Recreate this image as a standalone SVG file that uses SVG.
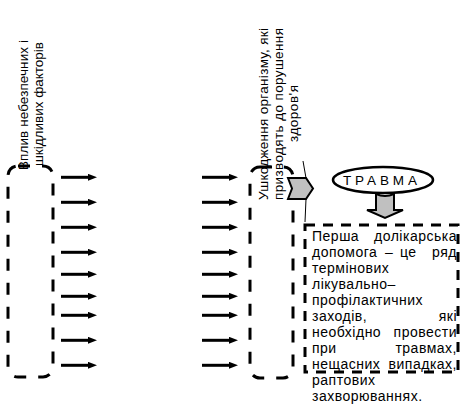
<svg xmlns="http://www.w3.org/2000/svg" width="468" height="406" viewBox="0 0 468 406">
  <style>
    text { font-family: "Liberation Sans", Arial, sans-serif; font-size: 13.5px; fill: #000; }
    .box text { font-size: 14px; letter-spacing: 0.5px; }
    .dash { fill: none; stroke: #000; stroke-width: 3; stroke-dasharray: 12 12; }
    .dash2 { fill: none; stroke: #000; stroke-width: 3; stroke-dasharray: 10 8; }
    .arr { stroke: #000; stroke-width: 3; fill: none; marker-end: url(#ah); }
    .blk { fill: #c0c0c0; stroke: #000; stroke-width: 2; }
    .thin { fill: none; stroke: #000; stroke-width: 1; }
    .mid { text-anchor: middle; }
    .end { text-anchor: end; }
  </style>
  <defs>
    <marker id="ah" viewBox="0 0 9 7" refX="1" refY="3.5" markerWidth="9" markerHeight="7" markerUnits="userSpaceOnUse" orient="auto">
      <path d="M0,0 L9,3.5 L0,7 Z" fill="#000"/>
    </marker>
  </defs>
  <rect width="468" height="406" fill="#fff"/>

  <g id="factors">
    <rect class="dash" x="8" y="166" width="45" height="211" rx="10"/>
    <text class="mid" transform="translate(28,105) rotate(-90)" textLength="130">Вплив небезпечних і</text>
    <text class="mid" transform="translate(43,104) rotate(-90)" textLength="124">шкідливих факторів</text>
  </g>

  <g id="damage">
    <rect class="dash" x="250" y="167" width="43" height="211" rx="10"/>
    <text class="mid" transform="translate(268,114) rotate(-90)" textLength="172">Ушкодження організму, які</text>
    <text class="mid" transform="translate(283,114) rotate(-90)" textLength="172">призводять до порушення</text>
    <text class="mid" transform="translate(298,113.5) rotate(-90)" textLength="57">здоров'я</text>
  </g>

  <g id="connectors">
    <path class="arr" d="M61,177.3 H89"/>
    <path class="arr" d="M61,202.3 H89"/>
    <path class="arr" d="M61,227.3 H89"/>
    <path class="arr" d="M61,252.3 H89"/>
    <path class="arr" d="M61,274.3 H89"/>
    <path class="arr" d="M61,296.3 H89"/>
    <path class="arr" d="M61,315.3 H89"/>
    <path class="arr" d="M61,340.3 H89"/>
    <path class="arr" d="M61,365.3 H89"/>
    <path class="arr" d="M202,177.3 H230"/>
    <path class="arr" d="M202,202.3 H230"/>
    <path class="arr" d="M202,227.3 H230"/>
    <path class="arr" d="M202,252.3 H230"/>
    <path class="arr" d="M202,274.3 H230"/>
    <path class="arr" d="M202,296.3 H230"/>
    <path class="arr" d="M202,315.3 H230"/>
    <path class="arr" d="M202,340.3 H230"/>
    <path class="arr" d="M202,365.3 H230"/>
    <polyline class="thin" points="303,161 306,178"/>
    <polyline class="thin" points="306,199 305,222"/>
    <polygon class="blk" points="288,178 306,178 313,188.5 306,199 288,199 292,188.5"/>
    <path class="blk" d="M376,194 Q385,198 394,194 L394,210 L403,210 L385,218 L367,210 L376,210 Z"/>
  </g>

  <g id="trauma">
    <ellipse cx="383" cy="180" rx="50" ry="13" fill="#fff" stroke="#000" stroke-width="2.5"/>
    <text x="343" y="185" textLength="74">ТРАВМА</text>
  </g>

  <g id="first-aid" class="box">
    <rect class="dash2" x="305" y="225" width="153" height="147"/>
    <text x="312" y="241">Перша</text>
    <text class="end" x="457" y="241">долікарська</text>
    <text x="312" y="257">допомога</text>
    <text x="385" y="257">–</text>
    <text x="400" y="257">це</text>
    <text class="end" x="457" y="257">ряд</text>
    <text x="312" y="273">термінових</text>
    <text x="312" y="289">лікувально–</text>
    <text x="312" y="305">профілактичних</text>
    <text x="312" y="321">заходів,</text>
    <text class="end" x="457" y="321">які</text>
    <text x="312" y="337">необхідно</text>
    <text class="end" x="457" y="337">провести</text>
    <text x="312" y="353">при</text>
    <text class="end" x="457" y="353">травмах,</text>
    <text x="312" y="369">нещасних</text>
    <text class="end" x="457" y="369">випадках,</text>
    <text x="312" y="385">раптових</text>
    <text x="312" y="401">захворюваннях.</text>
  </g>
</svg>
